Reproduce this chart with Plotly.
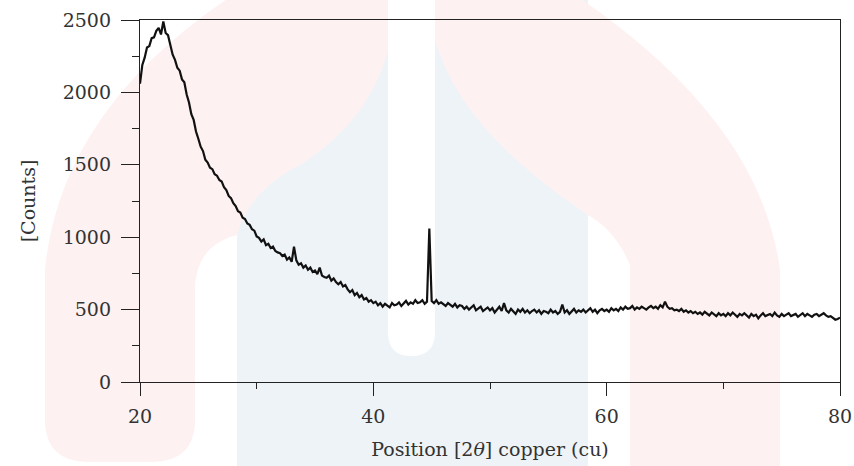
import plotly.graph_objects as go

# ---- data (2θ grid starts at 20°, step 0.2°) ----
theta_start = 20.0
theta_step = 0.2
counts = [
    2060, 2190, 2240, 2310, 2320, 2375, 2380, 2425, 2445, 2400,
    2490, 2410, 2395, 2330, 2260, 2225, 2170, 2150, 2090, 2070,
    1985, 1930, 1850, 1810, 1730, 1680, 1625, 1595, 1535, 1515,
    1480, 1470, 1435, 1425, 1395, 1385, 1345, 1325, 1285, 1270,
    1235, 1215, 1180, 1170, 1135, 1125, 1095, 1085, 1055, 1045,
    1005, 995, 970, 985, 945, 955, 925, 935, 905, 895,
    890, 870, 880, 845, 860, 830, 935, 840, 810, 820,
    790, 805, 775, 790, 760, 770, 745, 790, 735, 725,
    720, 735, 700, 715, 690, 675, 690, 660, 670, 640,
    620, 635, 600, 615, 585, 600, 570, 580, 555, 565,
    545, 555, 530, 545, 520, 540, 530, 515, 545, 530,
    535, 550, 525, 545, 560, 535, 550, 540, 565, 545,
    550, 565, 540, 555, 1060, 560, 545, 565, 540, 550,
    540, 525, 545, 530, 520, 540, 515, 530, 525, 505,
    520, 500, 515, 530, 495, 510, 520, 490, 505, 515,
    495, 510, 480, 500, 520, 490, 545, 495, 480, 505,
    490, 470, 500, 485, 505, 480, 495, 475, 490, 500,
    480, 495, 470, 490, 485, 475, 500, 480, 490, 470,
    485, 535, 480, 495, 470, 490, 505, 480, 495, 485,
    500, 480, 495, 510, 485, 500, 475, 495, 505, 490,
    500, 485, 510, 495, 505, 490, 515, 500, 520, 505,
    510, 525, 500, 515, 505, 520, 510, 500, 515, 525,
    510, 520, 505, 530, 515, 555, 520, 505, 510, 495,
    500, 490, 505, 485, 495, 480, 490, 475, 485, 470,
    480, 465, 485, 470, 460, 480, 465, 455, 475, 460,
    470, 455, 475, 460, 480, 465, 450, 470, 460, 475,
    460, 445, 470, 455, 465, 440, 460, 475, 455, 465,
    470, 455, 480, 460, 450, 470, 455, 465, 475, 455,
    460, 470, 450, 465, 475, 455, 470, 460, 450, 465,
    470, 455, 465, 475, 460, 450, 455, 440, 430, 435,
    445,
]
two_theta = [round(theta_start + theta_step * i, 1) for i in range(len(counts))]

x_ticks = [20, 40, 60, 80]
y_ticks = [0, 500, 1000, 1500, 2000, 2500]

# ---- layout geometry (pixels) ----
W, H = 854, 466
L, R, T, B = 140, 14, 20, 84
PW, PH = W - L - R, H - T - B


def to_paper(px, py):
    return (px - L) / PW, (H - B - py) / PH


def path(cmds):
    out = []
    for c in cmds:
        op, pts = c[0], c[1:]
        coords = " ".join("%.4f,%.4f" % to_paper(*p) for p in pts)
        out.append(op + " " + coords if pts else op)
    return " ".join(out)


PINK = "#fdf1f1"
BLUE = "#eef3f8"

# faint watermark behind the chart
blue_shape = path([
    ("M", (237, 470)), ("L", (237, -5)), ("L", (588, -5)),
    ("L", (588, 470)), ("Z",),
])
slot_shape = path([
    ("M", (388, -5)), ("L", (388, 332)), ("Q", (388, 356), (411, 356)),
    ("Q", (435, 356), (435, 332)), ("L", (435, -5)), ("Z",),
])
pink_left = path([
    ("M", (45, 420)), ("L", (45, 270)), ("Q", (60, 110), (233, -5)),
    ("L", (388, -5)), ("L", (388, 50)), ("Q", (370, 120), (300, 165)),
    ("Q", (250, 190), (237, 235)), ("Q", (198, 245), (195, 285)),
    ("L", (195, 420)), ("Q", (195, 462), (150, 462)), ("L", (90, 462)),
    ("Q", (45, 462), (45, 420)), ("Z",),
])
pink_right = path([
    ("M", (435, -5)), ("L", (575, -5)), ("Q", (760, 120), (780, 270)),
    ("L", (780, 470)), ("L", (630, 470)), ("L", (630, 265)),
    ("Q", (615, 230), (588, 215)), ("Q", (460, 130), (435, 40)), ("Z",),
])

shapes = [
    dict(type="path", xref="paper", yref="paper", path=p,
         fillcolor=c, line=dict(width=0), layer="below")
    for p, c in [(blue_shape, BLUE), (slot_shape, "white"),
                 (pink_left, PINK), (pink_right, PINK)]
]

FONT = "DejaVu Serif"
AX = "#222222"
TXT = "#333333"

fig = go.Figure()
fig.add_trace(go.Scatter(
    x=two_theta, y=counts, mode="lines",
    line=dict(color="#111111", width=2.2), showlegend=False,
    hoverinfo="skip",
))

fig.update_layout(
    width=W, height=H,
    margin=dict(l=L, r=R, t=T, b=B, autoexpand=False),
    paper_bgcolor="white",
    plot_bgcolor="rgba(0,0,0,0)",
    shapes=shapes,
    font=dict(family=FONT, size=19, color=TXT),
    xaxis=dict(
        range=[20, 80], tickvals=x_ticks, ticktext=[str(v) for v in x_ticks],
        ticks="outside", ticklen=13, tickwidth=1.3, tickcolor=AX,
        minor=dict(dtick=10, tick0=20, ticks="outside", ticklen=6,
                   tickwidth=1.2, tickcolor=AX, showgrid=False),
        showline=True, linecolor=AX, linewidth=1.3, mirror=True,
        showgrid=False, zeroline=False, automargin=False,
        ticklabelstandoff=4,
        tickfont=dict(family=FONT, size=19, color=TXT),
        title=dict(text="Position [2<i>θ</i>] copper (cu)", standoff=16,
                   font=dict(family=FONT, size=19, color=TXT)),
    ),
    yaxis=dict(
        range=[0, 2500], tickvals=y_ticks, ticktext=[str(v) for v in y_ticks],
        ticks="outside", ticklen=18, tickwidth=1.3, tickcolor=AX,
        minor=dict(dtick=250, tick0=0, ticks="outside", ticklen=7,
                   tickwidth=1.2, tickcolor=AX, showgrid=False),
        showline=True, linecolor=AX, linewidth=1.3, mirror=True,
        showgrid=False, zeroline=False, automargin=False,
        ticklabelstandoff=6,
        tickfont=dict(family=FONT, size=19, color=TXT),
        title=dict(text="[Counts]", standoff=22,
                   font=dict(family=FONT, size=19, color=TXT)),
    ),
)

fig.write_html("out.html")
